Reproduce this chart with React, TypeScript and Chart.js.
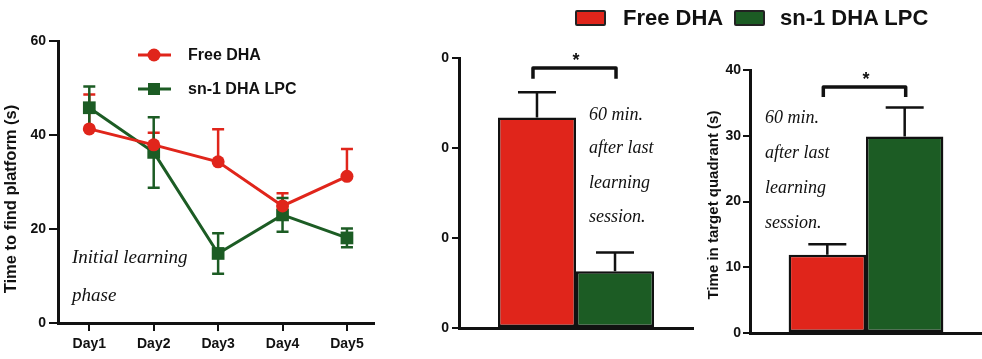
import React, { useEffect, useRef } from "react";
import { Chart, registerables } from "chart.js";
Chart.register(...registerables);

const RED = "#E0251B";
const GREEN = "#1C5C24";
const INK = "#111111";
const SANS = '"Liberation Sans", Arial, sans-serif';
const HAND = '"Liberation Serif", "DejaVu Serif", serif';

// ---- data ----
const groups = ["Free DHA", "sn-1 DHA LPC"];
const days = ["Day1", "Day2", "Day3", "Day4", "Day5"];
const freeDhaTime = [41.3, 37.9, 34.3, 24.9, 31.2];
const freeDhaTimeErr = [7.3, 2.6, 6.9, 2.7, 5.8];
const lpcTime = [45.8, 36.3, 14.8, 23.0, 18.1];
const lpcTimeErr = [4.5, 7.5, 4.3, 3.6, 2.0];
const learningYTicks = [0, 20, 40, 60];
const learningTitle = "Time to find platform (s)";
const initialNote = ["Initial learning", "phase"];

const middleValues = [23.4, 6.3];
const middleErr = [2.8, 2.1];
const middleTicks = [0, 10, 20, 30];
const middleTickLabels = ["0", "0", "0", "0"];
const middleBracket = [28.9, 27.7];

const targetValues = [11.9, 29.9];
const targetErr = [1.6, 4.4];
const targetTicks = [0, 10, 20, 30, 40];
const targetBracket = [37.4, 35.9];
const targetTitle = "Time in target quadrant (s)";

const sessionNote = ["60 min.", "after last", "learning", "session."];

// ---- helpers ----
function drawHand(ctx: CanvasRenderingContext2D, lines: string[], x: number, ys: number[], size: number) {
  ctx.save();
  ctx.fillStyle = INK;
  ctx.font = `italic ${size}px ${HAND}`;
  ctx.textAlign = "left";
  ctx.textBaseline = "middle";
  lines.forEach((t, i) => ctx.fillText(t, x, ys[i]));
  ctx.restore();
}

function drawVTitle(ctx: CanvasRenderingContext2D, text: string, x: number, y: number, size: number) {
  ctx.save();
  ctx.translate(x, y);
  ctx.rotate(-Math.PI / 2);
  ctx.fillStyle = INK;
  ctx.font = `bold ${size}px ${SANS}`;
  ctx.textAlign = "center";
  ctx.textBaseline = "middle";
  ctx.fillText(text, 0, 0);
  ctx.restore();
}

function LearningChart() {
  const ref = useRef<HTMLCanvasElement>(null);
  useEffect(() => {
    const errSets = [
      { err: freeDhaTimeErr, lower: false, color: RED },
      { err: lpcTimeErr, lower: true, color: GREEN },
    ];
    const plugin = {
      id: "learningExtras",
      beforeDatasetsDraw(chart: any) {
        const ctx = chart.ctx;
        const ys = chart.scales.y;
        ctx.save();
        ctx.lineWidth = 2.5;
        errSets.forEach((s, di) => {
          const meta = chart.getDatasetMeta(di);
          ctx.strokeStyle = s.color;
          meta.data.forEach((pt: any, i: number) => {
            const v = chart.data.datasets[di].data[i].y;
            const top = ys.getPixelForValue(v + s.err[i]);
            const bot = s.lower ? ys.getPixelForValue(v - s.err[i]) : pt.y;
            ctx.beginPath();
            ctx.moveTo(pt.x, top);
            ctx.lineTo(pt.x, bot);
            ctx.moveTo(pt.x - 6, top);
            ctx.lineTo(pt.x + 6, top);
            if (s.lower) {
              ctx.moveTo(pt.x - 6, bot);
              ctx.lineTo(pt.x + 6, bot);
            }
            ctx.stroke();
          });
        });
        ctx.restore();
      },
      afterDraw(chart: any) {
        const ctx = chart.ctx;
        ctx.save();
        const rows = [
          { y: 55, color: RED, label: groups[0], shape: "circle" },
          { y: 89, color: GREEN, label: groups[1], shape: "rect" },
        ];
        rows.forEach((r) => {
          ctx.strokeStyle = r.color;
          ctx.fillStyle = r.color;
          ctx.lineWidth = 3;
          ctx.beginPath();
          ctx.moveTo(138, r.y);
          ctx.lineTo(171, r.y);
          ctx.stroke();
          if (r.shape === "circle") {
            ctx.beginPath();
            ctx.arc(154, r.y, 6.5, 0, Math.PI * 2);
            ctx.fill();
          } else {
            ctx.fillRect(148, r.y - 6, 12, 12);
          }
          ctx.fillStyle = INK;
          ctx.font = `bold 16px ${SANS}`;
          ctx.textAlign = "left";
          ctx.textBaseline = "middle";
          ctx.fillText(r.label, 188, r.y + 1);
        });
        ctx.restore();
        drawVTitle(ctx, learningTitle, 11, 199, 16.5);
        drawHand(ctx, initialNote, 72, [258, 296], 19);
      },
    };
    const chart = new Chart(ref.current!, {
      type: "line",
      data: {
        datasets: [
          {
            label: groups[0],
            data: days.map((_, i) => ({ x: i + 1, y: freeDhaTime[i] })),
            borderColor: RED,
            backgroundColor: RED,
            borderWidth: 3,
            pointRadius: 6.5,
            pointStyle: "circle",
            pointBorderWidth: 0,
          },
          {
            label: groups[1],
            data: days.map((_, i) => ({ x: i + 1, y: lpcTime[i] })),
            borderColor: GREEN,
            backgroundColor: GREEN,
            borderWidth: 3,
            pointRadius: 9,
            pointStyle: "rect",
            pointBorderWidth: 0,
          },
        ],
      },
      options: {
        responsive: false,
        animation: false,
        layout: { padding: { left: 0, right: 2, top: 41, bottom: 0 } },
        plugins: { legend: { display: false }, tooltip: { enabled: false } },
        scales: {
          x: {
            type: "linear",
            min: 0.514,
            max: 5.42,
            afterBuildTicks: (s: any) => {
              s.ticks = days.map((_, i) => ({ value: i + 1 }));
            },
            afterFit: (s: any) => {
              s.height = 36;
            },
            ticks: {
              callback: (v: any) => days[Number(v) - 1] ?? "",
              font: { family: SANS, size: 14, weight: "bold" },
              color: INK,
              padding: 5,
              autoSkip: false,
              maxRotation: 0,
            },
            grid: { drawOnChartArea: false, drawTicks: true, tickLength: 8, color: INK, lineWidth: 2 },
            border: { display: true, color: INK, width: 3 },
          },
          y: {
            min: 0,
            max: 60,
            afterBuildTicks: (s: any) => {
              s.ticks = learningYTicks.map((v) => ({ value: v }));
            },
            afterFit: (s: any) => {
              s.width = 58;
            },
            ticks: {
              font: { family: SANS, size: 14, weight: "bold" },
              color: INK,
              padding: 3,
            },
            grid: { drawOnChartArea: false, drawTicks: true, tickLength: 9, color: INK, lineWidth: 2 },
            border: { display: true, color: INK, width: 3 },
          },
        },
      } as any,
      plugins: [plugin],
    });
    return () => chart.destroy();
  }, []);
  return (
    <canvas
      ref={ref}
      width={383}
      height={359}
      style={{ position: "absolute", left: 0, top: 0, width: 383, height: 359 }}
    />
  );
}

type BarProps = {
  left: number;
  width: number;
  values: number[];
  errs: number[];
  ticks: number[];
  tickLabels: string[];
  bracket: number[];
  pad: { left: number; right: number; top: number };
  yWidth: number;
  xHeight: number;
  tickLength: number;
  tickPadding: number;
  title?: string;
  titleX?: number;
  titleY?: number;
  noteX: number;
  noteYs: number[];
};

function BarPanel(p: BarProps) {
  const ref = useRef<HTMLCanvasElement>(null);
  useEffect(() => {
    const plugin = {
      id: "barExtras",
      afterDatasetsDraw(chart: any) {
        const ctx = chart.ctx;
        const ys = chart.scales.y;
        ctx.save();
        ctx.strokeStyle = INK;
        ctx.lineWidth = 2.5;
        const xs: number[] = [];
        p.values.forEach((v, di) => {
          const el = chart.getDatasetMeta(di).data[0];
          xs.push(el.x);
          const top = ys.getPixelForValue(v + p.errs[di]);
          ctx.beginPath();
          ctx.moveTo(el.x, el.y);
          ctx.lineTo(el.x, top);
          ctx.moveTo(el.x - 19, top);
          ctx.lineTo(el.x + 19, top);
          ctx.stroke();
        });
        const by = ys.getPixelForValue(p.bracket[0]);
        const ly = ys.getPixelForValue(p.bracket[1]);
        ctx.lineWidth = 3.5;
        ctx.lineJoin = "round";
        ctx.beginPath();
        ctx.moveTo(xs[0] - 4, ly);
        ctx.lineTo(xs[0] - 4, by);
        ctx.lineTo(xs[1] + 1, by);
        ctx.lineTo(xs[1] + 1, ly);
        ctx.stroke();
        ctx.fillStyle = INK;
        ctx.font = `bold 18px ${SANS}`;
        ctx.textAlign = "center";
        ctx.textBaseline = "middle";
        ctx.fillText("*", (xs[0] + xs[1]) / 2, by - 7);
        ctx.restore();
        if (p.title) drawVTitle(ctx, p.title, p.titleX!, p.titleY!, 15);
        drawHand(ctx, sessionNote, p.noteX, p.noteYs, 18);
      },
    };
    const chart = new Chart(ref.current!, {
      type: "bar",
      data: {
        labels: [""],
        datasets: p.values.map((v, i) => ({
          label: groups[i],
          data: [v],
          backgroundColor: i === 0 ? RED : GREEN,
          borderColor: INK,
          borderWidth: 2.5,
          borderSkipped: false,
          categoryPercentage: 0.667,
          barPercentage: 1,
        })),
      },
      options: {
        responsive: false,
        animation: false,
        layout: { padding: { left: p.pad.left, right: p.pad.right, top: p.pad.top, bottom: 0 } },
        plugins: { legend: { display: false }, tooltip: { enabled: false } },
        scales: {
          x: {
            ticks: { display: false },
            grid: { display: false },
            afterFit: (s: any) => {
              s.height = p.xHeight;
            },
            border: { display: true, color: INK, width: 3 },
          },
          y: {
            min: p.ticks[0],
            max: p.ticks[p.ticks.length - 1],
            afterBuildTicks: (s: any) => {
              s.ticks = p.ticks.map((v) => ({ value: v }));
            },
            afterFit: (s: any) => {
              s.width = p.yWidth;
            },
            ticks: {
              callback: (_v: any, i: number) => p.tickLabels[i],
              font: { family: SANS, size: 14, weight: "bold" },
              color: INK,
              padding: p.tickPadding,
            },
            grid: {
              drawOnChartArea: false,
              drawTicks: true,
              tickLength: p.tickLength,
              color: INK,
              lineWidth: 2,
            },
            border: { display: true, color: INK, width: 3 },
          },
        },
      } as any,
      plugins: [plugin],
    });
    return () => chart.destroy();
  }, []);
  return (
    <canvas
      ref={ref}
      width={p.width}
      height={359}
      style={{ position: "absolute", left: p.left, top: 0, width: p.width, height: 359 }}
    />
  );
}

function TopLegend() {
  const items = [
    { box: 575, text: 623, color: RED, label: groups[0] },
    { box: 734, text: 780, color: GREEN, label: groups[1] },
  ];
  return (
    <>
      {items.map((it) => (
        <React.Fragment key={it.label}>
          <div
            style={{
              position: "absolute",
              left: it.box,
              top: 10,
              width: 27,
              height: 12,
              background: it.color,
              border: "2px solid #222",
              borderRadius: 2,
            }}
          />
          <div
            style={{
              position: "absolute",
              left: it.text,
              top: 5,
              lineHeight: "22px",
              font: `bold 22px ${SANS}`,
              color: INK,
              whiteSpace: "nowrap",
            }}
          >
            {it.label}
          </div>
        </React.Fragment>
      ))}
    </>
  );
}

export default function App() {
  return (
    <div
      style={{
        position: "absolute",
        left: 0,
        top: 0,
        width: 982,
        height: 359,
        background: "#fff",
        overflow: "hidden",
      }}
    >
      <LearningChart />
      <BarPanel
        left={383}
        width={312}
        values={middleValues}
        errs={middleErr}
        ticks={middleTicks}
        tickLabels={middleTickLabels}
        bracket={middleBracket}
        pad={{ left: 0, right: 2, top: 58 }}
        yWidth={76}
        xHeight={31}
        tickLength={7}
        tickPadding={3}
        noteX={206}
        noteYs={[115, 148, 183, 217]}
      />
      <BarPanel
        left={695}
        width={287}
        values={targetValues}
        errs={targetErr}
        ticks={targetTicks}
        tickLabels={targetTicks.map(String)}
        bracket={targetBracket}
        pad={{ left: 0, right: 0, top: 70 }}
        yWidth={55}
        xHeight={26}
        tickLength={7}
        tickPadding={2}
        title={targetTitle}
        titleX={19}
        titleY={205}
        noteX={70}
        noteYs={[118, 153, 188, 223]}
      />
      <TopLegend />
    </div>
  );
}
